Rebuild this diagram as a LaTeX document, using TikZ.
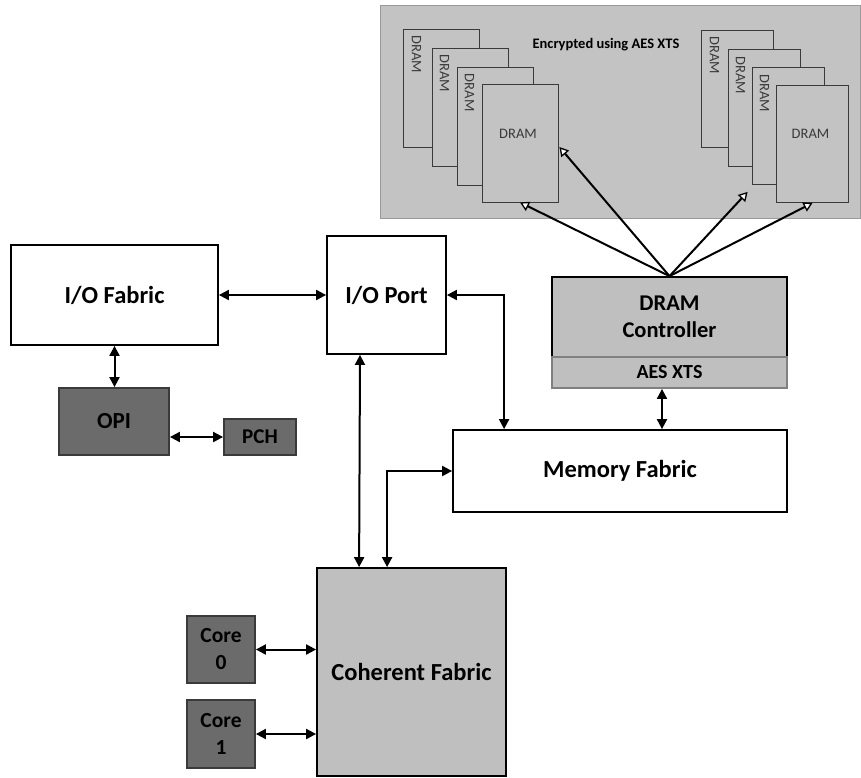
\documentclass[tikz,border=0pt]{standalone}
\usepackage{fontspec}
\setmainfont{Carlito}
\usetikzlibrary{arrows.meta,calc}
\definecolor{PanelClr}{HTML}{C3C3C3}
\definecolor{LightClr}{HTML}{BFBFBF}
\definecolor{DarkClr}{HTML}{6B6B6B}
\definecolor{EdgeClr}{HTML}{3A3A3A}

\begin{document}
\begin{tikzpicture}[x=1pt,y=-1pt,
  box/.style={draw=black,line width=1.8pt,fill=white,inner sep=0pt,align=center,
    font=\fontsize{24.5}{29}\selectfont\bfseries},
  darkbox/.style={box,draw=EdgeClr,fill=DarkClr,font=\fontsize{23}{27}\selectfont\bfseries},
  smallbox/.style={darkbox,font=\fontsize{21}{25}\selectfont\bfseries},
  card/.style={draw=EdgeClr,line width=0.8pt,fill=PanelClr,inner sep=0pt},
  cardtxt/.style={font=\fontsize{14.5}{16}\selectfont,text=EdgeClr,inner sep=0pt},
  dbl/.style={line width=2pt,{Triangle[length=10pt,width=10pt]}-{Triangle[length=10pt,width=10pt]}},
  toram/.style={line width=2pt,-{Triangle[open,fill=white,length=9pt,width=10pt,line width=1.3pt]}}]
\useasboundingbox (0,0) rectangle (861,777);

% The encrypted memory panel.
\node[draw=gray!80,line width=1pt,fill=PanelClr,minimum width=480pt,minimum height=213pt] (panel) at (620,111.5) {};
\node[font=\fontsize{14.5}{17}\selectfont\bfseries,inner sep=0pt] (enc) at (606,45) {Encrypted using AES XTS};

% Left stack of DRAM cards.
\node[card,minimum width=76pt,minimum height=118pt] (l1) at (441,88) {};
\node[cardtxt,rotate=-90] (l1t) at ($(l1.north west)+(14,26)$) {DRAM};
\node[card,minimum width=76pt,minimum height=118pt] (l2) at (470,107) {};
\node[cardtxt,rotate=-90] (l2t) at ($(l2.north west)+(13,26)$) {DRAM};
\node[card,minimum width=76pt,minimum height=118pt] (l3) at (495,126) {};
\node[cardtxt,rotate=-90] (l3t) at ($(l3.north west)+(13,26)$) {DRAM};
\node[card,minimum width=76pt,minimum height=118pt] (l4) at (520,143) {};
\node[cardtxt] (l4t) at ($(l4.center)+(-2,-9)$) {DRAM};

% Right stack of DRAM cards.
\node[card,minimum width=72pt,minimum height=117pt] (r1) at (737,88.5) {};
\node[cardtxt,rotate=-90] (r1t) at ($(r1.north west)+(14,26)$) {DRAM};
\node[card,minimum width=72pt,minimum height=117pt] (r2) at (764,108) {};
\node[cardtxt,rotate=-90] (r2t) at ($(r2.north west)+(13,26)$) {DRAM};
\node[card,minimum width=72pt,minimum height=117pt] (r3) at (788,126) {};
\node[cardtxt,rotate=-90] (r3t) at ($(r3.north west)+(13,26)$) {DRAM};
\node[card,minimum width=72pt,minimum height=117pt] (r4) at (812.5,144) {};
\node[cardtxt] (r4t) at ($(r4.center)+(-2,-10)$) {DRAM};

% The blocks.
\node[box,minimum width=207pt,minimum height=100pt] (iofab) at (114.5,295) {I/O Fabric};
\node[box,minimum width=119pt,minimum height=118pt] (ioport) at (386.5,295) {I/O Port};
\node[darkbox,minimum width=110pt,minimum height=67pt] (opi) at (114,421.5) {OPI};
\node[smallbox,minimum width=72pt,minimum height=36pt] (pch) at (260,437) {PCH};
\node[box,fill=LightClr,minimum width=235pt,minimum height=80pt,
  font=\fontsize{22.5}{27}\selectfont\bfseries] (ctrl) at (669.5,317) {DRAM\\Controller};
\node[box,draw=gray,fill=LightClr,minimum width=235pt,minimum height=31pt,
  font=\fontsize{20}{24}\selectfont\bfseries] (aes) at (669.5,372.5) {AES XTS};
\node[box,minimum width=334pt,minimum height=82pt] (memfab) at (620,471) {Memory Fabric};
\node[box,fill=LightClr,minimum width=189pt,minimum height=208pt] (coh) at (411.5,672) {Coherent Fabric};
\node[smallbox,minimum width=68pt,minimum height=67pt,font=\fontsize{21.5}{27}\selectfont\bfseries] (core0) at (221,649.5) {Core\\0};
\node[smallbox,minimum width=68pt,minimum height=68pt,font=\fontsize{21.5}{27}\selectfont\bfseries] (core1) at (221,734) {Core\\1};

% Connect the controller to the DRAM cards.
\coordinate (r3a) at ($(r3.south west)+(-4,7)$);
\draw[toram] (ctrl.north) -- (l4.south);
\draw[toram] (ctrl.north) -- ($(l4.east)+(1,4)$);
\draw[toram] (ctrl.north) -- (r3a);
\draw[toram] (ctrl.north) -- (r4.south);

% The two-way links.
\draw[dbl] (iofab.east) -- (ioport.west);
\draw[dbl] (iofab.south) -- (iofab.south |- opi.north);
\draw[dbl] (pch.west -| opi.east) -- (pch.west);
\draw[dbl] ($(ioport.south)+(-26.5,0)$) -- ($(coh.north west)+(43,0)$);
\draw[dbl] (ioport.east) -| ($(memfab.north west)+(52,0)$);
\draw[dbl] (memfab.west) -| ($(coh.north west)+(71,0)$);
\draw[dbl] ($(aes.south)+(-7.5,0)$) -- ($(memfab.north)+(42,0)$);
\draw[dbl] (core0.east) -- (core0.east -| coh.west);
\draw[dbl] (core1.east) -- (core1.east -| coh.west);

\end{tikzpicture}
\end{document}
